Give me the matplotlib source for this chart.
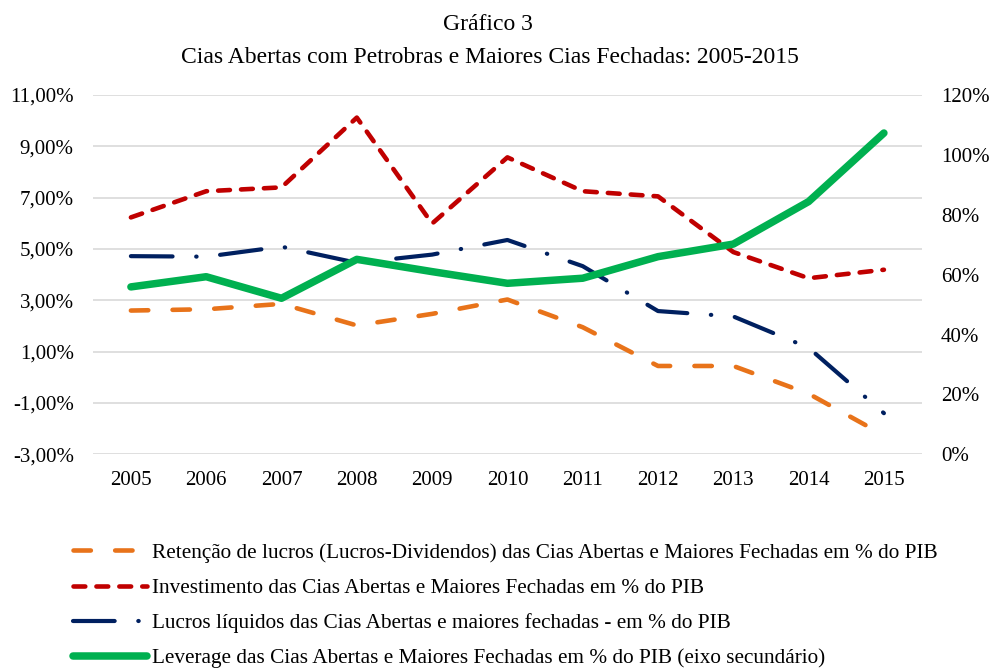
# -*- coding: utf-8 -*-

import matplotlib
matplotlib.use("Agg")
import matplotlib.pyplot as plt
from matplotlib.ticker import FuncFormatter

# --------------------
# data
# --------------------
years = [2005, 2006, 2007, 2008, 2009, 2010, 2011, 2012, 2013, 2014, 2015]

# left axis, % of PIB
retencao = [2.60, 2.65, 2.86, 2.02, 2.47, 3.03, 1.95, 0.44, 0.44, -0.64, -2.26]
investimento = [6.23, 7.25, 7.40, 10.12, 5.99, 8.57, 7.25, 7.05, 4.88, 3.86, 4.19]
lucros = [4.72, 4.70, 5.09, 4.46, 4.78, 5.35, 4.33, 2.58, 2.37, 1.15, -1.40]

# right axis, %
leverage = [55.9, 59.3, 52.1, 65.1, 61.0, 57.1, 58.8, 66.0, 70.2, 84.4, 107.3]

left_ticks = [-3, -1, 1, 3, 5, 7, 9, 11]
right_ticks = [0, 20, 40, 60, 80, 100, 120]

labels = [
    "Retenção de lucros (Lucros-Dividendos) das Cias Abertas e Maiores Fechadas em % do PIB",
    "Investimento das Cias Abertas e Maiores Fechadas em % do PIB",
    "Lucros líquidos das Cias Abertas e maiores fechadas - em % do PIB",
    "Leverage das Cias Abertas e Maiores Fechadas em % do PIB (eixo secundário)",
]
title1 = "Gráfico 3"
title2 = "Cias Abertas com Petrobras e Maiores Cias Fechadas: 2005-2015"

plt.rcParams['font.family'] = ['Liberation Serif', 'DejaVu Serif']
plt.rcParams['lines.scale_dashes'] = False

fig = plt.figure(figsize=(9.92, 6.69), dpi=100)
ax = fig.add_axes([0.094, 0.321, 0.835, 0.537])
ax2 = ax.twinx()

# left axis lines
l1, = ax.plot(years, retencao, color="#E8731A", lw=3.3,
              dashes=(12.5, 17.5), dash_capstyle="round", solid_capstyle="round")
l2, = ax.plot(years, investimento, color="#C00000", lw=3.3,
              dashes=(8.5, 8.0), dash_capstyle="round", solid_capstyle="round")
l3, = ax.plot(years, lucros, color="#002060", lw=3.0,
              dashes=(30, 17, 0.3, 17), dash_capstyle="round", solid_capstyle="round")
# right axis line
l4, = ax2.plot(years, leverage, color="#00B050", lw=5.4,
               solid_capstyle="round", solid_joinstyle="round")

ax.set_xlim(2004.5, 2015.5)
ax.set_ylim(-3, 11)
ax2.set_ylim(0, 120)

ax.set_yticks(left_ticks)
ax2.set_yticks(right_ticks)
ax.set_xticks(years)
ax.yaxis.set_major_formatter(FuncFormatter(lambda v, p: ("%.2f%%" % v).replace(".", ",")))
ax2.yaxis.set_major_formatter(FuncFormatter(lambda v, p: "%d%%" % v))

ax.grid(axis="y", color="#D9D9D9", lw=1.2)
ax.set_axisbelow(True)
for a in (ax, ax2):
    for s in a.spines.values():
        s.set_visible(False)
ax.tick_params(axis="both", length=0)
ax2.tick_params(axis="both", length=0)
ax.tick_params(axis="y", labelsize=15, pad=14)
ax2.tick_params(axis="y", labelsize=15, pad=14)
ax.tick_params(axis="x", labelsize=15, pad=12)

# titles
fig.text(0.492, 1 - 30 / 669, title1, ha="center", va="baseline", fontsize=17)
fig.text(0.494, 1 - 63 / 669, title2, ha="center", va="baseline", fontsize=17)

# legend below the plot
fig.legend([l1, l2, l3, l4], labels, loc="upper left",
           bbox_to_anchor=(0.0736, 1 - 543 / 669), frameon=False, fontsize=15.3,
           handlelength=3.5, handletextpad=0.2, labelspacing=0.72,
           borderaxespad=0, borderpad=0)

fig.savefig("out.png", dpi=100)
